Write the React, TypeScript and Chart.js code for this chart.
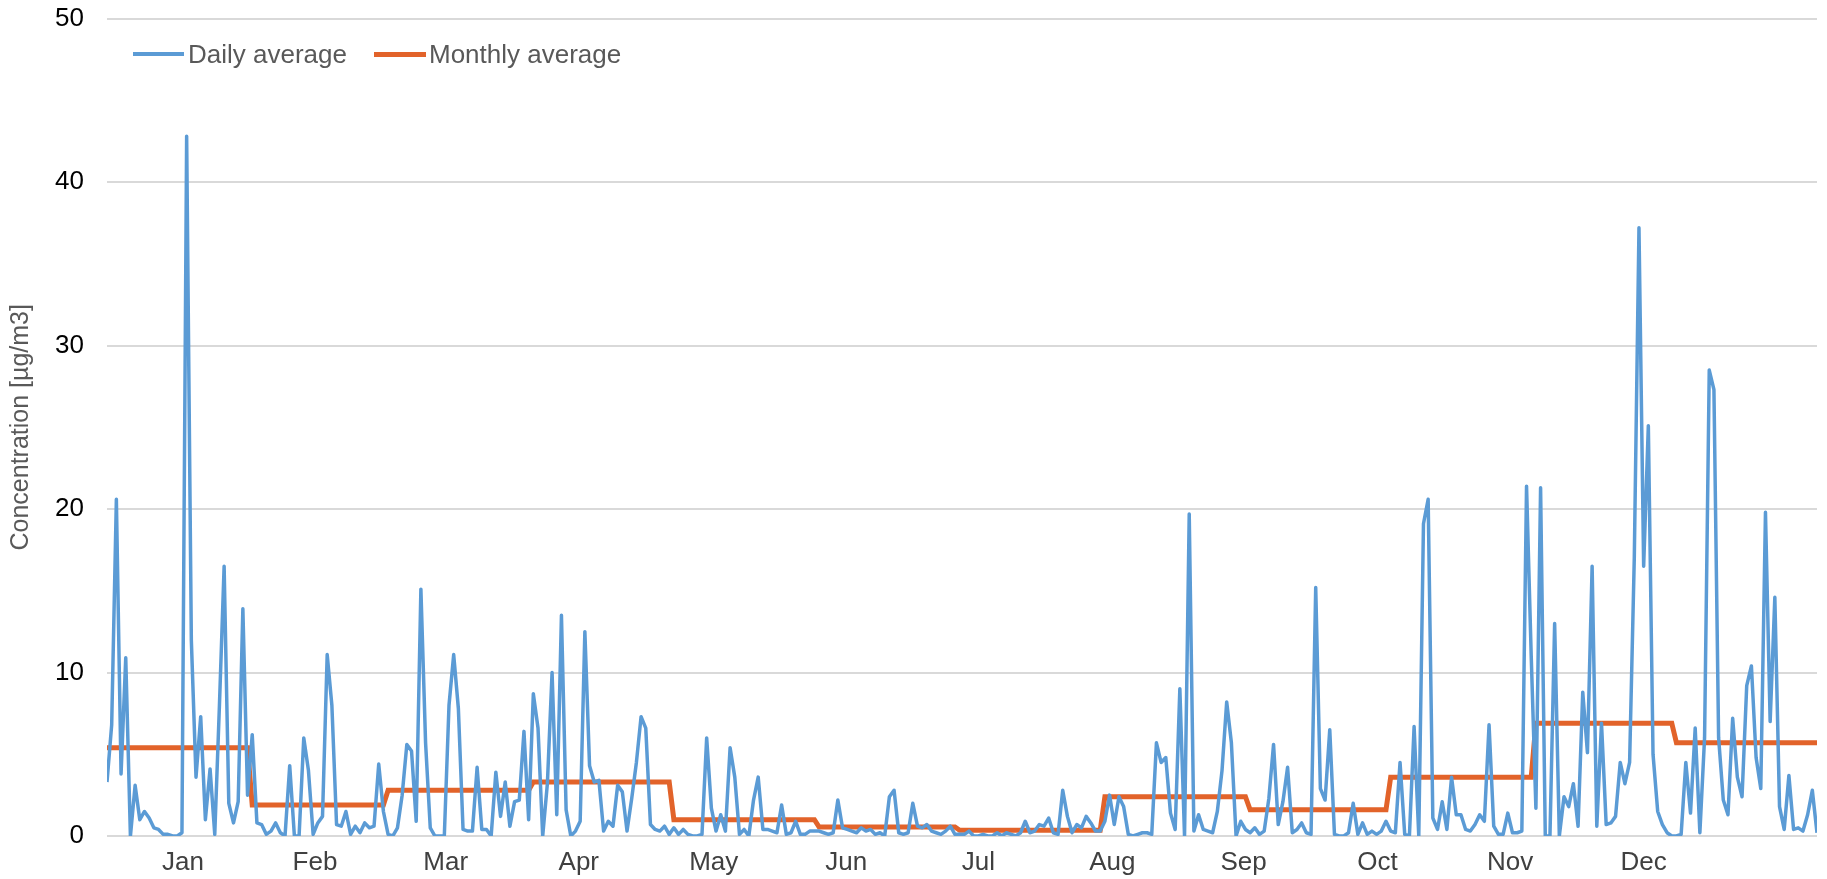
import React, { useEffect, useRef } from "react";
import { Chart, registerables } from "chart.js";

Chart.register(...registerables);

const monthLabels = ["Jan", "Feb", "Mar", "Apr", "May", "Jun", "Jul", "Aug", "Sep", "Oct", "Nov", "Dec"];
const monthTickPositions = [16.2, 44.4, 72.3, 100.7, 129.5, 157.8, 186.0, 214.6, 242.6, 271.2, 299.5, 328.0];
const monthDays = [31, 29, 31, 30, 31, 30, 31, 31, 30, 31, 30, 31];
const monthlyAverage = [5.4, 1.9, 2.8, 3.3, 1.0, 0.55, 0.35, 2.4, 1.6, 3.6, 6.9, 5.7];

const janDaily = [3.3, 6.8, 20.6, 3.8, 10.9, 0, 3.1, 1.0, 1.5, 1.1, 0.5, 0.4, 0.1, 0.1, 0, 0, 0.2, 42.8, 12, 3.6, 7.3, 1.0, 4.1, 0.1, 8, 16.5, 2.0, 0.8, 2.1, 13.9, 2.5];
const febDaily = [6.2, 0.8, 0.7, 0.1, 0.3, 0.8, 0.2, 0, 4.3, 0, 0, 6.0, 4.0, 0.1, 0.8, 1.2, 11.1, 8.0, 0.7, 0.6, 1.5, 0.1, 0.6, 0.2, 0.8, 0.5, 0.6, 4.4, 1.5];
const marDaily = [0.1, 0, 0.5, 2.5, 5.6, 5.2, 0.9, 15.1, 5.7, 0.5, 0, 0, 0, 8.0, 11.1, 7.8, 0.4, 0.3, 0.3, 4.2, 0.4, 0.4, 0, 3.9, 1.2, 3.3, 0.6, 2.1, 2.2, 6.4, 1.0];
const aprDaily = [8.7, 6.6, 0, 3.2, 10.0, 1.3, 13.5, 1.6, 0, 0.3, 0.9, 12.5, 4.3, 3.3, 3.4, 0.3, 0.9, 0.6, 3.1, 2.7, 0.3, 2.3, 4.5, 7.3, 6.6, 0.7, 0.4, 0.3, 0.6, 0.1];
const mayDaily = [0.5, 0.1, 0.4, 0.1, 0, 0, 0.1, 6.0, 1.7, 0.3, 1.3, 0.3, 5.4, 3.6, 0.1, 0.4, 0, 2.2, 3.6, 0.4, 0.4, 0.3, 0.2, 1.9, 0.1, 0.2, 0.9, 0.1, 0.1, 0.3, 0.3];
const junDaily = [0.3, 0.2, 0.1, 0.2, 2.2, 0.5, 0.4, 0.3, 0.2, 0.5, 0.3, 0.4, 0.1, 0.2, 0, 2.4, 2.8, 0.2, 0.1, 0.2, 2.0, 0.6, 0.5, 0.7, 0.3, 0.2, 0.1, 0.3, 0.6, 0.1];
const julDaily = [0.1, 0.1, 0.3, 0, 0, 0.1, 0, 0, 0.2, 0, 0.2, 0.1, 0, 0.2, 0.9, 0.2, 0.3, 0.7, 0.6, 1.1, 0.2, 0.1, 2.8, 1.2, 0.2, 0.7, 0.5, 1.2, 0.8, 0.3, 0.3];
const augDaily = [0.9, 2.5, 0.7, 2.4, 1.8, 0.1, 0, 0.1, 0.2, 0.2, 0.1, 5.7, 4.5, 4.8, 1.4, 0.4, 9.0, 0, 19.7, 0.3, 1.3, 0.4, 0.3, 0.2, 1.5, 4.0, 8.2, 5.7, 0, 0.9, 0.4];
const sepDaily = [0.2, 0.5, 0.1, 0.3, 2.3, 5.6, 0.7, 2.1, 4.2, 0.2, 0.4, 0.8, 0.2, 0.1, 15.2, 2.9, 2.2, 6.5, 0.1, 0, 0, 0.2, 2.0, 0.1, 0.8, 0.1, 0.3, 0.1, 0.3, 0.9];
const octDaily = [0.3, 0.2, 4.5, 0.1, 0, 6.7, 0, 19.1, 20.6, 1.1, 0.4, 2.1, 0.4, 3.6, 1.3, 1.3, 0.4, 0.3, 0.7, 1.3, 0.9, 6.8, 0.6, 0.1, 0.1, 1.4, 0.2, 0.2, 0.3, 21.4, 11];
const novDaily = [1.7, 21.3, 0, 0, 13.0, 0, 2.4, 1.8, 3.2, 0.6, 8.8, 5.1, 16.5, 0.6, 6.9, 0.7, 0.8, 1.2, 4.5, 3.2, 4.5, 17, 37.2, 16.5, 25.1, 5, 1.5, 0.7, 0.2, 0];
const decDaily = [0, 0.1, 4.5, 1.4, 6.6, 0.2, 6, 28.5, 27.3, 6, 2.2, 1.3, 7.2, 3.6, 2.4, 9.2, 10.4, 4.8, 2.9, 19.8, 7.0, 14.6, 1.8, 0.4, 3.7, 0.4, 0.5, 0.3, 1.3, 2.8, 0.2];

const dailyAverage = [
  ...janDaily, ...febDaily, ...marDaily, ...aprDaily, ...mayDaily, ...junDaily,
  ...julDaily, ...augDaily, ...sepDaily, ...octDaily, ...novDaily, ...decDaily,
];

const FONT = "'Liberation Sans', Arial, sans-serif";
const BLUE = "#5B9BD5";
const ORANGE = "#E2632A";

export default function App() {
  const canvasRef = useRef<HTMLCanvasElement | null>(null);

  useEffect(() => {
    if (!canvasRef.current) return;
    const dailyPoints = dailyAverage.map((v, i) => ({ x: i, y: v }));
    const monthlyPoints: { x: number; y: number }[] = [];
    let idx = 0;
    monthDays.forEach((n, m) => {
      for (let d = 0; d < n; d++) {
        monthlyPoints.push({ x: idx, y: monthlyAverage[m] });
        idx++;
      }
    });

    const chart = new Chart(canvasRef.current, {
      type: "line",
      data: {
        datasets: [
          {
            label: "Daily average",
            data: dailyPoints,
            borderColor: BLUE,
            backgroundColor: BLUE,
            borderWidth: 3.5,
            pointRadius: 0,
            tension: 0,
            borderJoinStyle: "round",
          },
          {
            label: "Monthly average",
            data: monthlyPoints,
            borderColor: ORANGE,
            backgroundColor: ORANGE,
            borderWidth: 5,
            pointRadius: 0,
            tension: 0,
          },
        ],
      },
      options: {
        animation: false,
        responsive: true,
        maintainAspectRatio: false,
        layout: { padding: { left: 0, right: 10, top: 0, bottom: 0 } },
        plugins: {
          legend: { display: false },
          tooltip: { enabled: false },
        },
        scales: {
          x: {
            type: "linear",
            min: 0,
            max: dailyAverage.length - 1,
            grid: { display: false },
            border: { display: false },
            afterBuildTicks: (scale: any) => {
              scale.ticks = monthTickPositions.map((v) => ({ value: v }));
            },
            afterFit: (scale: any) => {
              scale.height = 43;
            },
            ticks: {
              autoSkip: false,
              maxRotation: 0,
              padding: 3,
              color: "#404040",
              font: { family: FONT, size: 26 },
              callback: (value: any) => {
                const i = monthTickPositions.indexOf(Number(value));
                return i >= 0 ? monthLabels[i] : "";
              },
            },
          },
          y: {
            min: 0,
            max: 50,
            grid: {
              color: "#d9d9d9",
              lineWidth: 2,
              drawTicks: true,
              tickLength: 20,
              tickColor: "rgba(0,0,0,0)",
            },
            border: { display: false },
            afterFit: (scale: any) => {
              scale.width = 107;
            },
            ticks: {
              stepSize: 10,
              padding: 3,
              color: "#000000",
              font: { family: FONT, size: 26 },
            },
            title: {
              display: true,
              text: "Concentration [µg/m3]",
              color: "#595959",
              font: { family: FONT, size: 25 },
              padding: { top: 6, bottom: 0 },
            },
          },
        },
      },
    });
    return () => chart.destroy();
  }, []);

  const legendText: React.CSSProperties = {
    position: "absolute",
    top: 38,
    fontFamily: FONT,
    fontSize: 26,
    color: "#595959",
    lineHeight: "32px",
    whiteSpace: "nowrap",
  };

  return (
    <div style={{ position: "absolute", left: 0, top: 0, width: 1827, height: 879, background: "#fff" }}>
      <canvas ref={canvasRef} />
      <div style={{ position: "absolute", left: 133, top: 52, width: 51, height: 4, background: BLUE }} />
      <span style={{ ...legendText, left: 188 }}>Daily average</span>
      <div style={{ position: "absolute", left: 374, top: 52, width: 52, height: 5, background: ORANGE }} />
      <span style={{ ...legendText, left: 429 }}>Monthly average</span>
    </div>
  );
}
